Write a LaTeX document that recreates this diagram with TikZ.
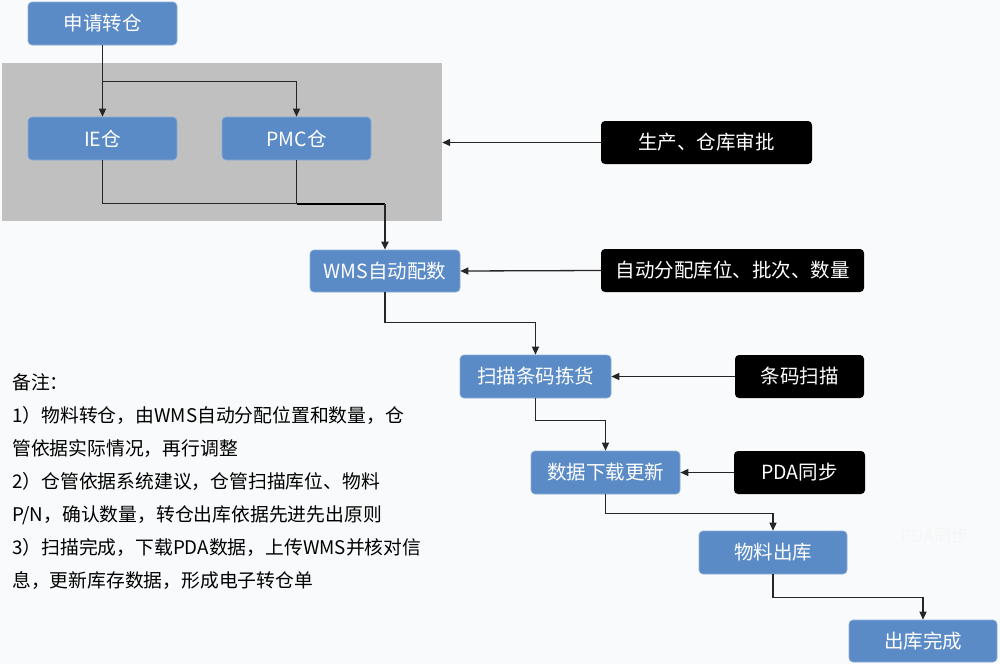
\documentclass[tikz,border=0pt]{standalone}
\usepackage{fontspec}
\setmainfont{Noto Sans CJK SC}
\usetikzlibrary{arrows.meta,calc}
\definecolor{bgc}{RGB}{249,250,251}
\definecolor{boxblue}{RGB}{91,139,198}
\definecolor{grpgray}{RGB}{192,192,192}
\tikzset{
  bluebox/.style={fill=boxblue, draw=boxblue!70!white, line width=0.6pt, rounded corners=4pt, text=white, minimum width=149pt, minimum height=43pt, inner sep=0pt, font=\fontsize{19.5}{21}\selectfont},
  blackbox/.style={fill=black, rounded corners=4pt, text=white, minimum height=43pt, inner sep=0pt, font=\fontsize{19.5}{21}\selectfont},
  arr/.style={draw=black!85, line width=1.3pt, -{Triangle[length=8pt,width=7pt]}},
  ln/.style={draw=black!85, line width=1.3pt}
}
\begin{document}
\begin{tikzpicture}[x=1pt,y=-1pt]
\fill[bgc] (0,0) rectangle (1000,664);
\useasboundingbox (0,0) rectangle (1000,664);
\node[fill=grpgray, minimum width=440pt, minimum height=158pt, inner sep=0pt] (grp) at (222,142) {};
\node[bluebox] (req) at (102.5,23.5) {申请转仓};
\node[bluebox] (ie) at (102.5,138.5) {IE仓};
\node[bluebox] (pmc) at (296.5,138.5) {PMC仓};
\node[bluebox, minimum width=150pt, minimum height=42pt] (wms) at (385,271) {WMS自动配数};
\node[bluebox, minimum width=151pt] (scan) at (535.5,376.5) {扫描条码拣货};
\node[bluebox] (data) at (605.5,472.5) {数据下载更新};
\node[bluebox, minimum width=148pt] (mat) at (773,552.5) {物料出库};
\node[bluebox, minimum width=148pt, minimum height=42pt] (done) at (923,641) {出库完成};
\node[blackbox, minimum width=211pt] (appr) at (706.5,142.5) {生产、仓库审批};
\node[blackbox, minimum width=263pt] (auto) at (732.5,270.5) {自动分配库位、批次、数量};
\node[blackbox, minimum width=129pt] (bar) at (799.5,376.5) {条码扫描};
\node[blackbox, minimum width=131pt] (pda) at (799.5,472.5) {PDA同步};
\node[text=white!93!gray, font=\fontsize{17.5}{20}\selectfont] (ghost) at (935,536) {PDA同步};
% connectors
\draw[arr] (req.south) -- (ie.north);
\draw[arr] ($(req.south)+(0,36)$) -| (pmc.north);
\coordinate (jn) at ($(wms.north)+(0,-46)$);
\coordinate (pj) at (pmc.south |- jn);
\draw[ln] (ie.south) |- (pj);
\draw[ln] (pmc.south) -- (pj);
\draw[line width=2.2pt, black] (pj) -- (jn);
\draw[arr, line width=1.8pt] (jn) -- (wms.north);
\draw[arr] (appr.west) -- (grp.east |- appr.west);
\draw[arr] (auto.west) -- (wms.east);
\draw[arr] (bar.west) -- (scan.east);
\draw[arr] (pda.west) -- (data.east);
\draw[arr] (wms.south) -- ++(0,30) -| (scan.north);
\draw[arr] (scan.south) -- ++(0,22) -| (data.north);
\draw[arr] (data.south) -- ++(0,19) -| (mat.north);
\draw[arr] (mat.south) -- ++(0,23) -| (done.north);
% notes
\node[anchor=north west, align=left, inner sep=0pt, font=\fontsize{18.8}{33}\selectfont] (notes) at (12,373) {备注：\\
1）物料转仓，由WMS自动分配位置和数量，仓\\
管依据实际情况，再行调整\\
2）仓管依据系统建议，仓管扫描库位、物料\\
P/N，确认数量，转仓出库依据先进先出原则\\
3）扫描完成，下载PDA数据，上传WMS并核对信\\
息，更新库存数据，形成电子转仓单};
\end{tikzpicture}
\end{document}
